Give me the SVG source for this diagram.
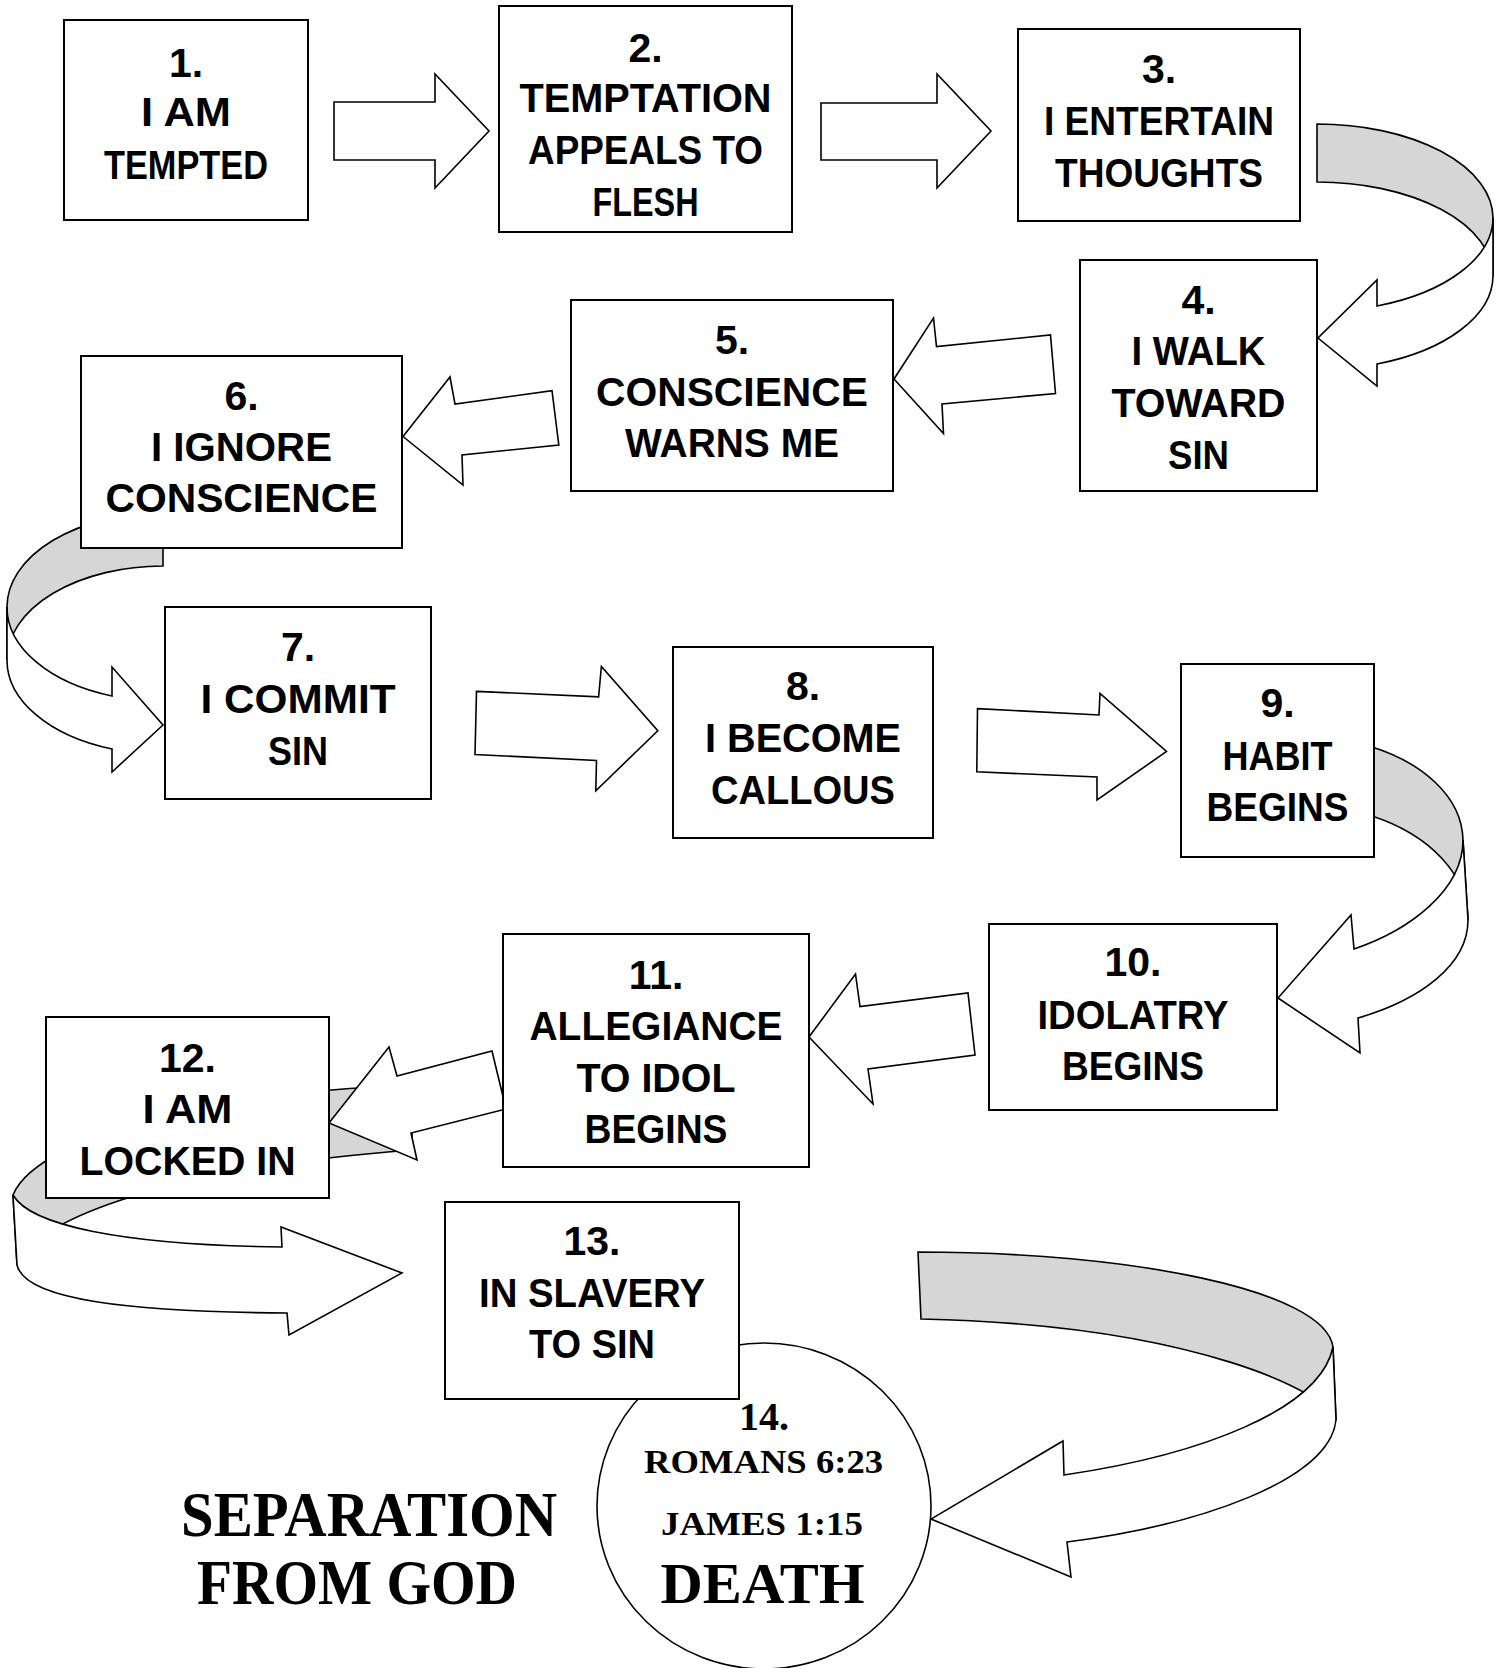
<svg xmlns="http://www.w3.org/2000/svg" width="1506" height="1668" viewBox="0 0 1506 1668">
<style>
.box{fill:#fff;stroke:#000;stroke-width:2}
.arw{fill:#fff;stroke:#000;stroke-width:1.6;stroke-linejoin:miter}
.back{fill:#d6d6d6;stroke:#000;stroke-width:1.6;stroke-linejoin:miter}
.circ{fill:#fff;stroke:#000;stroke-width:1.6}
.t{font-family:"Liberation Sans",Arial,sans-serif;font-weight:bold;font-size:41px;text-anchor:middle;fill:#000}
.s{font-family:"Liberation Serif","Times New Roman",serif;font-weight:bold;text-anchor:middle;fill:#000}
</style>
<rect width="1506" height="1668" fill="#fff"/>
<g id="connectors">
  <path id="a12-13-back" class="back" d="M412,1086 C250,1088 40,1130 13,1195 L17,1265 C30,1225 150,1170 412,1150 Z"/>
  <path id="a12-13" class="arw" d="M17,1265 C25,1300 130,1312 287,1313 L289,1335 L402,1273 L281,1227 L282,1247 C120,1245 30,1225 13,1195 Z"/>
  <polygon id="a11-12" class="arw" points="329,1123 389,1047 397,1076 492,1051 506,1109 411,1133 417,1160"/>
  <polygon id="a1-2" class="arw" points="334,102 435,102 435,74 489,131 435,188 435,160 334,160"/>
  <polygon id="a2-3" class="arw" points="821,103 937,103 937,74 991,131 937,188 937,160 821,160"/>
  <path id="a3-4-back" class="back" d="M1317,124 A176,94 0 0 1 1493,218 L1493,276 A176,94 0 0 0 1317,182 Z"/>
  <path id="a3-4" class="arw" d="M1493,276 A176,94 0 0 1 1377,364 L1377,386 L1318,338 L1377,280 L1377,306 A176,94 0 0 0 1493,218 Z"/>
  <polygon id="a4-5" class="arw" points="894,379 933.5,318 936.5,346.5 1050.5,335 1055.5,393.5 942,404 943.5,433.5"/>
  <polygon id="a5-6" class="arw" points="403,436.5 450,377 455,404 552,390.7 558.8,445 462,455 463,485"/>
  <path id="a6-7-back" class="back" d="M163,513 A156,94 0 0 0 7,607 L7,660 A156,94 0 0 1 163,566 Z"/>
  <path id="a6-7" class="arw" d="M7,660 A156,94 0 0 0 112,749 L112,772 L163,725 L112,667 L112,696 A156,94 0 0 1 7,607 Z"/>
  <polygon id="a7-8" class="arw" points="476.5,691.4 598.6,696.8 601.4,666.5 657.8,730.7 595.8,790.8 596.5,760.4 475,754.5"/>
  <polygon id="a8-9" class="arw" points="977.5,708.6 1099,715 1100,693.5 1166.5,751.5 1097,800 1097,777 976.8,771.8"/>
  <path id="a9-10-back" class="back" d="M1372,747 C1420,762 1462,795 1463,840 L1468,920 C1468,875 1430,835 1372,816 Z"/>
  <path id="a9-10" class="arw" d="M1468,920 C1468,965 1420,1000 1358,1018 L1360,1053 L1278,998 L1351,915 L1354,949 C1410,930 1463,890 1463,840 Z"/>
  <polygon id="a10-11" class="arw" points="809,1037 855.5,974 860,1006.5 968,993 975,1055 868,1069 873,1104"/>
  <path id="a13-14-back" class="back" d="M918,1252 C1130,1252 1325,1290 1333,1347 L1336,1420 C1330,1395 1200,1325 921,1319 Z"/>
  <path id="a13-14" class="arw" d="M1336,1420 C1330,1480 1200,1525 1067,1542 L1071,1577 L931,1519 L1063,1441 L1064,1475 C1200,1455 1320,1410 1333,1347 Z"/>
</g>
<g id="n14">
  <ellipse class="circ" cx="764" cy="1506" rx="167" ry="163"/>
  <text class="s" x="764" y="1430" font-size="40">14.</text>
  <text class="s" x="763.5" y="1473" font-size="33" textLength="239" lengthAdjust="spacingAndGlyphs">ROMANS 6:23</text>
  <text class="s" x="762" y="1535" font-size="33" textLength="202" lengthAdjust="spacingAndGlyphs">JAMES 1:15</text>
  <text class="s" x="762.5" y="1603" font-size="56" textLength="204" lengthAdjust="spacingAndGlyphs">DEATH</text>
</g>
<g id="n1">
  <rect class="box" x="64" y="20" width="244" height="200"/>
  <text class="t" x="186" y="77">1.</text>
  <text class="t" x="186" y="126" textLength="90" lengthAdjust="spacingAndGlyphs">I AM</text>
  <text class="t" x="186" y="179" textLength="164" lengthAdjust="spacingAndGlyphs">TEMPTED</text>
</g>
<g id="n2">
  <rect class="box" x="499" y="6" width="293" height="226"/>
  <text class="t" x="645.5" y="62">2.</text>
  <text class="t" x="645.5" y="112" textLength="252" lengthAdjust="spacingAndGlyphs">TEMPTATION</text>
  <text class="t" x="645.5" y="164" textLength="235" lengthAdjust="spacingAndGlyphs">APPEALS TO</text>
  <text class="t" x="645.5" y="216" textLength="106" lengthAdjust="spacingAndGlyphs">FLESH</text>
</g>
<g id="n3">
  <rect class="box" x="1018" y="29" width="282" height="192"/>
  <text class="t" x="1159" y="83">3.</text>
  <text class="t" x="1159" y="135" textLength="230" lengthAdjust="spacingAndGlyphs">I ENTERTAIN</text>
  <text class="t" x="1159" y="187" textLength="208" lengthAdjust="spacingAndGlyphs">THOUGHTS</text>
</g>
<g id="n4">
  <rect class="box" x="1080" y="260" width="237" height="231"/>
  <text class="t" x="1198.5" y="314">4.</text>
  <text class="t" x="1198.5" y="365" textLength="134" lengthAdjust="spacingAndGlyphs">I WALK</text>
  <text class="t" x="1198.5" y="417" textLength="174" lengthAdjust="spacingAndGlyphs">TOWARD</text>
  <text class="t" x="1198.5" y="469" textLength="61" lengthAdjust="spacingAndGlyphs">SIN</text>
</g>
<g id="n5">
  <rect class="box" x="571" y="300" width="322" height="191"/>
  <text class="t" x="732" y="354">5.</text>
  <text class="t" x="732" y="406" textLength="272" lengthAdjust="spacingAndGlyphs">CONSCIENCE</text>
  <text class="t" x="732" y="457" textLength="214" lengthAdjust="spacingAndGlyphs">WARNS ME</text>
</g>
<g id="n6">
  <rect class="box" x="81" y="356" width="321" height="192"/>
  <text class="t" x="241.5" y="410">6.</text>
  <text class="t" x="241.5" y="461" textLength="181" lengthAdjust="spacingAndGlyphs">I IGNORE</text>
  <text class="t" x="241.5" y="512" textLength="272" lengthAdjust="spacingAndGlyphs">CONSCIENCE</text>
</g>
<g id="n7">
  <rect class="box" x="165" y="607" width="266" height="192"/>
  <text class="t" x="298" y="661">7.</text>
  <text class="t" x="298" y="713" textLength="195" lengthAdjust="spacingAndGlyphs">I COMMIT</text>
  <text class="t" x="298" y="765" textLength="60" lengthAdjust="spacingAndGlyphs">SIN</text>
</g>
<g id="n8">
  <rect class="box" x="673" y="647" width="260" height="191"/>
  <text class="t" x="803" y="700">8.</text>
  <text class="t" x="803" y="752" textLength="196" lengthAdjust="spacingAndGlyphs">I BECOME</text>
  <text class="t" x="803" y="804" textLength="184" lengthAdjust="spacingAndGlyphs">CALLOUS</text>
</g>
<g id="n9">
  <rect class="box" x="1181" y="664" width="193" height="193"/>
  <text class="t" x="1277.5" y="717">9.</text>
  <text class="t" x="1277.5" y="770" textLength="110" lengthAdjust="spacingAndGlyphs">HABIT</text>
  <text class="t" x="1277.5" y="821" textLength="142" lengthAdjust="spacingAndGlyphs">BEGINS</text>
</g>
<g id="n10">
  <rect class="box" x="989" y="924" width="288" height="186"/>
  <text class="t" x="1133" y="976">10.</text>
  <text class="t" x="1133" y="1029" textLength="191" lengthAdjust="spacingAndGlyphs">IDOLATRY</text>
  <text class="t" x="1133" y="1080" textLength="142" lengthAdjust="spacingAndGlyphs">BEGINS</text>
</g>
<g id="n11">
  <rect class="box" x="503" y="934" width="306" height="233"/>
  <text class="t" x="656" y="989">11.</text>
  <text class="t" x="656" y="1040" textLength="253" lengthAdjust="spacingAndGlyphs">ALLEGIANCE</text>
  <text class="t" x="656" y="1092" textLength="159" lengthAdjust="spacingAndGlyphs">TO IDOL</text>
  <text class="t" x="656" y="1143" textLength="143" lengthAdjust="spacingAndGlyphs">BEGINS</text>
</g>
<g id="n12">
  <rect class="box" x="46" y="1017" width="283" height="181"/>
  <text class="t" x="187.5" y="1072">12.</text>
  <text class="t" x="187.5" y="1123" textLength="90" lengthAdjust="spacingAndGlyphs">I AM</text>
  <text class="t" x="187.5" y="1175" textLength="216" lengthAdjust="spacingAndGlyphs">LOCKED IN</text>
</g>
<g id="n13">
  <rect class="box" x="445" y="1202" width="294" height="197"/>
  <text class="t" x="592" y="1255">13.</text>
  <text class="t" x="592" y="1307" textLength="226" lengthAdjust="spacingAndGlyphs">IN SLAVERY</text>
  <text class="t" x="592" y="1358" textLength="126" lengthAdjust="spacingAndGlyphs">TO SIN</text>
</g>
<g id="caption">
  <text class="s" x="369" y="1536" font-size="63" textLength="376" lengthAdjust="spacingAndGlyphs">SEPARATION</text>
  <text class="s" x="357" y="1604" font-size="63" textLength="320" lengthAdjust="spacingAndGlyphs">FROM GOD</text>
</g>
</svg>
